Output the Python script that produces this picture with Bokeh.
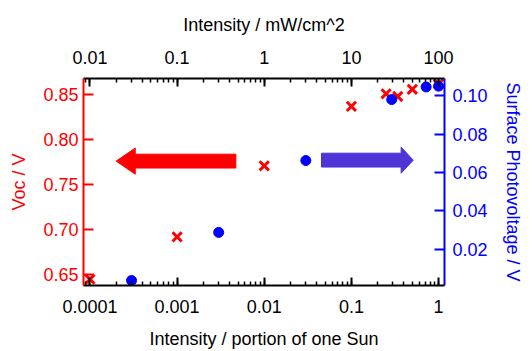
from bokeh.plotting import figure
from bokeh.models import (Range1d, LinearAxis, LogAxis, LogScale, LogTicker,
                          SingleIntervalTicker, CustomJSTickFormatter,
                          PrintfTickFormatter)
from bokeh.embed import file_html
from bokeh.resources import INLINE

# ---- data ----
voc_sun = [0.0001, 0.001, 0.01, 0.1, 0.25, 0.34, 0.5, 1.0]
voc = [0.645, 0.692, 0.771, 0.837, 0.851, 0.848, 0.856, 0.862]
spv_sun = [0.0003, 0.003, 0.03, 0.29, 0.72, 1.0]
spv = [0.0036, 0.0287, 0.0662, 0.098, 0.1046, 0.105]

sun_range = (8.43e-5, 1.17)
mw_per_sun = 100.0
voc_range = (0.638, 0.868)
spv_range = (0.001, 0.109)

# arrows (decoration): [tail, head base, tip] in suns, centre y in Voc
red_arrow_x = [0.00472, 3.31e-4, 2.0e-4]
red_arrow_y = 0.7762
blue_arrow_x = [0.0454, 0.372, 0.512]
blue_arrow_y = 0.7773
arrow_body_half = 0.0077
arrow_head_half = 0.0145

FONT = "Liberation Sans"
FS = "18px"
RED = "#ff0000"
BLUE = "#0000ff"
ARROW_BLUE = "#4f34d8"

p = figure(width=532, height=351, x_axis_type="log",
           x_range=Range1d(*sun_range), y_range=Range1d(*voc_range),
           output_backend="svg", toolbar_location=None,
           min_border_left=83, min_border_right=88,
           min_border_top=78, min_border_bottom=63)
p.xgrid.visible = False
p.ygrid.visible = False
p.outline_line_color = None
p.background_fill_color = "white"
p.border_fill_color = "white"

p.extra_x_ranges = {"top": Range1d(sun_range[0] * mw_per_sun, sun_range[1] * mw_per_sun)}
p.extra_x_scales = {"top": LogScale()}
p.extra_y_ranges = {"spv": Range1d(*spv_range)}

fmt_js = "return Number(tick.toPrecision(6)).toString();"

def style_x(ax):
    ax.ticker = LogTicker(num_minor_ticks=10)
    ax.formatter = CustomJSTickFormatter(code=fmt_js)
    ax.axis_line_color = "black"
    ax.axis_line_width = 2
    ax.major_tick_line_color = "black"
    ax.major_tick_line_width = 2
    ax.minor_tick_line_color = "black"
    ax.minor_tick_line_width = 1.5
    ax.major_tick_in = 8
    ax.major_tick_out = 0
    ax.minor_tick_in = 4
    ax.minor_tick_out = 0
    ax.major_label_text_font = FONT
    ax.major_label_text_font_size = FS
    ax.major_label_text_color = "black"
    ax.axis_label_text_font = FONT
    ax.axis_label_text_font_size = FS
    ax.axis_label_text_font_style = "normal"
    ax.axis_label_text_color = "black"

bottom = p.xaxis[0]
style_x(bottom)
bottom.axis_label = "Intensity / portion of one Sun"
bottom.major_label_standoff = 14
bottom.axis_label_standoff = 13

top = LogAxis(x_range_name="top")
style_x(top)
top.axis_label = "Intensity / mW/cm^2"
top.major_label_standoff = 15
top.axis_label_standoff = 13
p.add_layout(top, "above")

def style_y(ax, color, interval):
    ax.ticker = SingleIntervalTicker(interval=interval, num_minor_ticks=0)
    ax.formatter = PrintfTickFormatter(format="%.2f")
    ax.axis_line_color = color
    ax.axis_line_width = 2
    ax.major_tick_line_color = color
    ax.major_tick_line_width = 2
    ax.minor_tick_line_color = None
    ax.major_tick_in = 10
    ax.major_tick_out = 0
    ax.minor_tick_in = 0
    ax.minor_tick_out = 0
    ax.major_label_text_font = FONT
    ax.major_label_text_font_size = FS
    ax.major_label_text_color = color
    ax.axis_label_text_font = FONT
    ax.axis_label_text_font_size = FS
    ax.axis_label_text_font_style = "normal"
    ax.axis_label_text_color = color

left = p.yaxis[0]
style_y(left, RED, 0.05)
left.axis_label = "Voc / V"
left.major_label_standoff = 5
left.axis_label_standoff = 11

right = LinearAxis(y_range_name="spv")
style_y(right, BLUE, 0.02)
right.axis_label = "Surface Photovoltage / V"
right.major_label_standoff = 8
right.axis_label_standoff = 12
p.add_layout(right, "right")

# arrows
def arrow_poly(xs, yc):
    tail, base, tip = xs
    px = [tail, base, base, tip, base, base, tail]
    py = [yc - arrow_body_half, yc - arrow_body_half, yc - arrow_head_half, yc,
          yc + arrow_head_half, yc + arrow_body_half, yc + arrow_body_half]
    return px, py

rx, ry = arrow_poly(red_arrow_x, red_arrow_y)
bx, by = arrow_poly(blue_arrow_x, blue_arrow_y)
p.patch(rx, ry, fill_color=RED, line_color=RED, line_width=1)
p.patch(bx, by, fill_color=ARROW_BLUE, line_color=ARROW_BLUE, line_width=1)

# data
p.scatter(voc_sun, voc, marker="x", size=13, line_color=RED, line_width=3)
p.scatter(spv_sun, spv, marker="circle", size=10, fill_color=BLUE,
          line_color=BLUE, y_range_name="spv")

open("out.html", "w").write(file_html(p, INLINE))
